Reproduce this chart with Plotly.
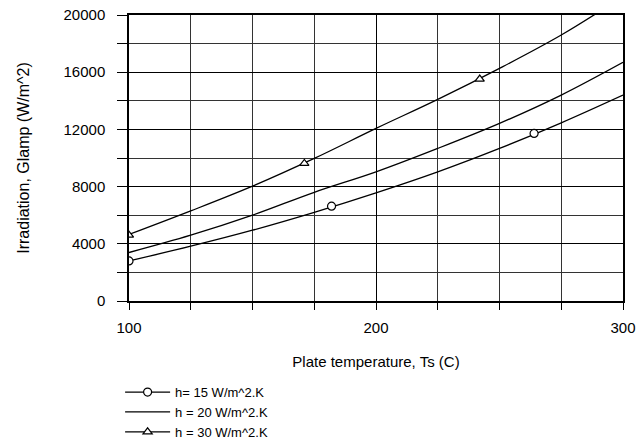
import plotly.graph_objects as go

ts = [100, 125, 150, 175, 200, 225, 250, 275, 300]
g15 = [2800, 3830, 4950, 6200, 7560, 9030, 10670, 12460, 14400]
g20 = [3390, 4600, 6000, 7600, 9030, 10670, 12420, 14400, 16690]
g30 = [4650, 6300, 8030, 9970, 12070, 14100, 16270, 18600, 21300]

m15_x = [100, 182, 264]
m15_y = [2800, 6630, 11720]
m30_x = [100, 171, 242]
m30_y = [4600, 9620, 15520]

names = ["h= 15 W/m^2.K", "h = 20 W/m^2.K", "h = 30 W/m^2.K"]

fig = go.Figure()
line = dict(color="black", width=1.3, shape="spline")
for y in (g15, g20, g30):
    fig.add_trace(go.Scatter(x=ts, y=y, mode="lines", line=line, showlegend=False, hoverinfo="skip"))

mk = dict(color="white", size=8, line=dict(color="black", width=1.2))
fig.add_trace(go.Scatter(x=m15_x, y=m15_y, mode="markers",
                         marker=dict(symbol="circle", **mk), showlegend=False))
fig.add_trace(go.Scatter(x=m30_x, y=m30_y, mode="markers",
                         marker=dict(symbol="triangle-up", **mk), showlegend=False))

# legend entries
fig.add_trace(go.Scatter(x=[None], y=[None], mode="lines+markers", name=names[0],
                         line=dict(color="black", width=1.3), marker=dict(symbol="circle", **mk)))
fig.add_trace(go.Scatter(x=[None], y=[None], mode="lines", name=names[1],
                         line=dict(color="black", width=1.3)))
fig.add_trace(go.Scatter(x=[None], y=[None], mode="lines+markers", name=names[2],
                         line=dict(color="black", width=1.3), marker=dict(symbol="triangle-up", **mk)))

fam = "Liberation Sans, Arial, sans-serif"
tickfont = dict(family=fam, size=15, color="black")
xtitlefont = dict(family=fam, size=15, color="black")
ytitlefont = dict(family=fam, size=16, color="black")
legfont = dict(family=fam, size=13, color="black")
fig.update_layout(
    width=636, height=440,
    margin=dict(l=129, r=13, t=15, b=139, autoexpand=False),
    paper_bgcolor="white", plot_bgcolor="white",
    font=dict(family=fam, size=13, color="black"),
    xaxis=dict(range=[100, 300], dtick=100, tick0=100, showgrid=True, gridcolor="black", gridwidth=1,
               ticks="outside", ticklen=7, tickcolor="black", tickfont=tickfont, ticklabelstandoff=5,
               ticklabeloverflow="allow",
               minor=dict(dtick=25, showgrid=True, gridcolor="#333", gridwidth=1, ticks="outside",
                          ticklen=7, tickcolor="black"),
               showline=True, linecolor="black", linewidth=1.5, mirror=True, zeroline=False,
               automargin=False,
               title=dict(text="Plate temperature, Ts (C)", font=xtitlefont, standoff=22), fixedrange=True),
    yaxis=dict(range=[0, 20000], dtick=4000, tick0=0, showgrid=True, gridcolor="black", gridwidth=1,
               ticks="outside", ticklen=10, tickcolor="black", tickformat="d", tickfont=tickfont,
               ticklabelstandoff=9, ticklabeloverflow="allow",
               minor=dict(dtick=2000, showgrid=True, gridcolor="#333", gridwidth=1, ticks="outside",
                          ticklen=10, tickcolor="black"),
               showline=True, linecolor="black", linewidth=1.5, mirror=True, zeroline=False,
               automargin=False,
               title=dict(text="Irradiation, Glamp (W/m^2)", font=ytitlefont, standoff=30), fixedrange=True),
    legend=dict(x=-0.018, y=-0.266, xanchor="left", yanchor="top", bgcolor="rgba(0,0,0,0)",
                font=legfont, itemwidth=45, tracegroupgap=0),
    showlegend=True,
)

fig.write_html("out.html", config={"displayModeBar": False},
               post_script="document.body.style.margin='0';document.body.style.overflow='hidden';")
